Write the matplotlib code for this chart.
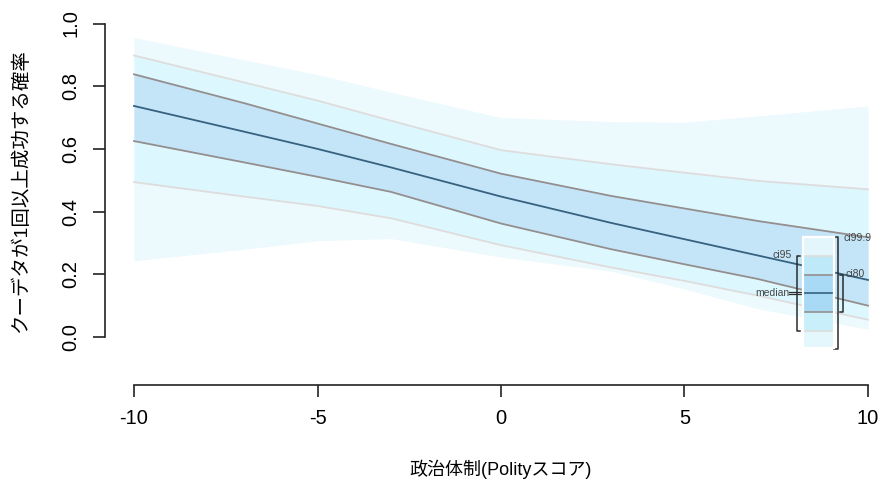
import matplotlib
matplotlib.use("Agg")
import matplotlib.pyplot as plt
import numpy as np
from matplotlib.patches import Rectangle

# ---- data ----
polity = [-10, -7, -5, -3, 0, 3, 5, 7, 10]
median = [0.737, 0.655, 0.600, 0.541, 0.448, 0.364, 0.312, 0.260, 0.182]
ci80_lo = [0.625, 0.557, 0.511, 0.463, 0.362, 0.280, 0.232, 0.185, 0.100]
ci80_hi = [0.838, 0.746, 0.681, 0.616, 0.521, 0.450, 0.410, 0.370, 0.318]
ci95_lo = [0.494, 0.448, 0.418, 0.379, 0.293, 0.222, 0.179, 0.132, 0.055]
ci95_hi = [0.898, 0.812, 0.754, 0.690, 0.596, 0.551, 0.524, 0.498, 0.471]
ci999_lo = [0.243, 0.280, 0.307, 0.314, 0.255, 0.210, 0.153, 0.090, 0.025]
ci999_hi = [0.955, 0.884, 0.837, 0.781, 0.700, 0.687, 0.685, 0.705, 0.737]

xticks = [-10, -5, 0, 5, 10]
yticks = [0.0, 0.2, 0.4, 0.6, 0.8, 1.0]
xlabel = "政治体制(Polityスコア)"
ylabel = "クーデタが1回以上成功する確率"

plt.rcParams['font.family'] = ['Liberation Sans', 'Noto Sans CJK JP']

W, H = 881, 482
fig = plt.figure(figsize=(W / 100, H / 100), dpi=100)

# axes placement in pixels
left_px, right_px, bot_px, top_px = 104.5, 875, 384.5, 20
ax = fig.add_axes([left_px / W, 1 - bot_px / H, (right_px - left_px) / W, (bot_px - top_px) / H])
px_x = (868 - 134) / 20.0
px_y = (337 - 23.5) / 1.0
ax.set_xlim(-10 - (134 - left_px) / px_x, 10 + (right_px - 868) / px_x)
ax.set_ylim(0 - (bot_px - 337) / px_y, 1 + (23.5 - top_px) / px_y)

c_out = '#ECF9FD'
c_95 = '#DCF8FE'
c_80 = '#C4E5F8'
c_med = '#36617F'
c_l80 = '#948E8E'
c_l95 = '#DEDCDC'

x = np.array(polity)
ax.fill_between(x, ci999_lo, ci999_hi, color=c_out, lw=0, zorder=1)
ax.fill_between(x, ci95_lo, ci95_hi, color=c_95, lw=0, zorder=2)
ax.fill_between(x, ci80_lo, ci80_hi, color=c_80, lw=0, zorder=3)
ax.plot(x, ci95_lo, color=c_l95, lw=1.3, zorder=4)
ax.plot(x, ci95_hi, color=c_l95, lw=1.3, zorder=4)
ax.plot(x, ci80_lo, color=c_l80, lw=1.3, zorder=4)
ax.plot(x, ci80_hi, color=c_l80, lw=1.3, zorder=4)
ax.plot(x, median, color=c_med, lw=1.3, zorder=5)

# ---- legend (box with brackets), in pixel coords ----
def P(px, py):
    return fig.transFigure.inverted().transform((px, H - py))

tr = fig.transFigure
def rect(x0, y0, x1, y1, fc, ec='none', lw=0, z=6):
    a = P(x0, y1); b = P(x1, y0)
    fig.patches.append(Rectangle(a, b[0] - a[0], b[1] - a[1], transform=tr,
                                 facecolor=fc, edgecolor=ec, lw=lw, zorder=z))
def seg(xs, ys, color, lw=1.0, z=8):
    pts = [P(a, b) for a, b in zip(xs, ys)]
    fig.add_artist(plt.Line2D([p[0] for p in pts], [p[1] for p in pts], color=color,
                              lw=lw, transform=tr, zorder=z))

bx0, bx1 = 803, 834
ys = [237, 256, 275, 293, 312, 331, 348]
cols = ['#E2F6FC', '#BEE9F9', '#A8D9F5', '#A8D9F5', '#C9EFFA', '#E4F7FC']
for i in range(6):
    rect(bx0, ys[i], bx1, ys[i + 1], cols[i])
seg([bx0, bx1], [256, 256], c_l95, 1.2)
seg([bx0, bx1], [275, 275], c_l80, 1.2)
seg([bx0, bx1], [293, 293], c_med, 1.2)
seg([bx0, bx1], [312, 312], c_l80, 1.2)
seg([bx0, bx1], [331, 331], c_l95, 1.2)
rect(bx0, 237, bx1, 348, 'none', ec='white', lw=1.6, z=9)

bc = '#2b2b2b'
seg([834, 838, 838, 834], [237, 237, 349, 349], bc, 1.1)   # ci99.9
seg([840, 843, 843, 840], [275, 275, 312, 312], bc, 1.1)   # ci80
seg([800, 797, 797, 800], [256, 256, 331, 331], bc, 1.1)   # ci95
seg([789, 803], [292.2, 292.2], bc, 0.9)                   # median
seg([789, 803], [294.2, 294.2], bc, 0.9)

fs_leg = 7.5
lc = '#444444'
def ftxt(px, py, s, ha):
    p = P(px, py)
    fig.text(p[0], p[1], s, ha=ha, va='center', fontsize=fs_leg, color=lc, zorder=10)
ftxt(843, 238, 'ci99.9', 'left')
ftxt(845, 274, 'ci80', 'left')
ftxt(792, 255, 'ci95', 'right')
ftxt(789, 293, 'median', 'right')

# ---- axes styling (R base style) ----
for s in ['top', 'right']:
    ax.spines[s].set_visible(False)
ax.spines['left'].set_bounds(0, 1)
ax.spines['bottom'].set_bounds(-10, 10)
for s in ['left', 'bottom']:
    ax.spines[s].set_linewidth(1.2)
    ax.spines[s].set_color('#222222')
ax.set_xticks(xticks)
ax.set_xticklabels([str(v) for v in xticks])
ax.set_yticks(yticks)
ax.set_yticklabels([f"{v:.1f}" for v in yticks])
ax.tick_params(axis='both', direction='out', length=8.6, width=1.2, color='#222222', labelsize=14.5)
ax.tick_params(axis='x', pad=9)
ax.tick_params(axis='y', pad=9)
for lab in ax.get_yticklabels():
    lab.set_rotation(90)
    lab.set_va('center')
ax.patch.set_visible(False)

fig.text(501 / W, 1 - 469 / H, xlabel, ha='center', va='center', fontsize=13)
fig.text(21 / W, 1 - 191 / H, ylabel, ha='center', va='center', rotation=90, fontsize=14)

fig.savefig('out.png', dpi=100)
